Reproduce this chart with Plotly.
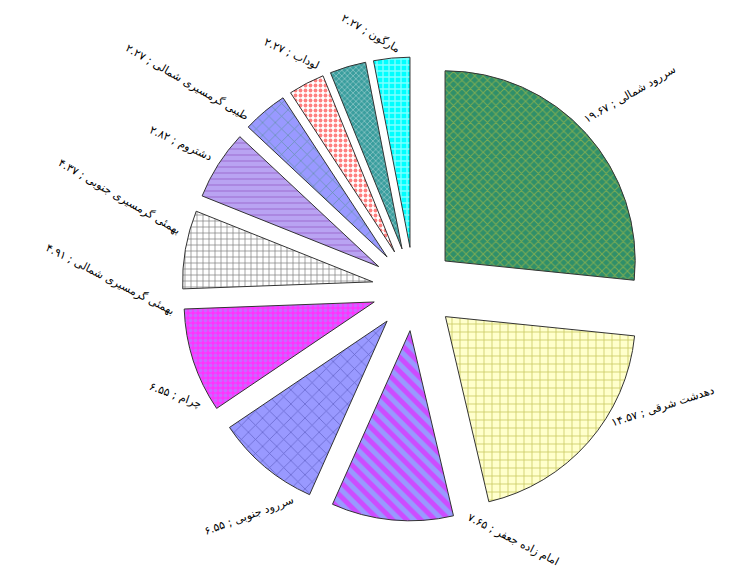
import math
import plotly.graph_objects as go

# ---- data ----
names = ["سررود شمالی", "دهدشت شرقی", "امام زاده جعفر", "سررود جنوبی", "چرام",
         "بهمئی گرمسیری شمالی", "بهمئی گرمسیری جنوبی", "دشتروم",
         "طیبی گرمسیری شمالی", "لوداب", "مارگون"]
values = [19.67, 14.57, 7.65, 6.55, 6.55, 4.91, 4.37, 2.82, 2.27, 2.27, 2.27]

# ---- styles ----
bg_colors = ["#2F8F6A", "#FFFFCC", "#9999FF", "#9999FF", "#FF33FF", "#FFFFFF",
             "#B9A3F2", "#9999FF", "#FFFFFF", "#3A9E9E", "#00FFFF"]
fg_colors = ["#C8C83C", "#999900", "#FF00FF", "#333399", "#9999FF", "#000000",
             "#9966CC", "#2E8B57", "#FF0000", "#FFFFFF", "#FFFFFF"]
shapes = ["x", "+", "\\", "x", ".", "+", "-", "x", ".", "x", "+"]
psizes = [6, 8, 10, 10, 5, 6, 6, 9, 5, 4, 6]
solid = [0.3, 0.2, 0.5, 0.15, 0.45, 0.22, 0.3, 0.15, 0.45, 0.3, 0.4]
label_angles = [-30, -18, 27, -20, 20, 27, 30, 25, 30, 25, 30]
# angular nudge (degrees, counter-clockwise) of each label from its slice middle
label_nudge = [0, -16, -26, -4, -6, -8, -15, -18, -20, -11, -4]
font_size = 11

# page body has an 8px margin, so the figure is drawn 8px in from the corner
W, H = 727, 565
pull = 0.22
r = 190.0
cx, cy = 406, 281          # pie centre in figure pixels
side = 2 * r * (1 + pull)
ml = cx - side / 2
mt = cy - side / 2
mr = W - ml - side
mb = H - mt - side

fa_digits = str.maketrans("0123456789", "۰۱۲۳۴۵۶۷۸۹")


def fa(v):
    return f"{v:.2f}".translate(fa_digits)


fig = go.Figure(go.Pie(
    labels=names, values=values, sort=False, direction="clockwise", rotation=0,
    pull=[pull] * len(values), textinfo="none", hoverinfo="label+value",
    marker=dict(colors=bg_colors, line=dict(color="#333333", width=1),
                pattern=dict(shape=shapes, fgcolor=fg_colors, bgcolor=bg_colors,
                             size=psizes, solidity=solid, fillmode="overlay")),
    showlegend=False,
))

total = sum(values)
cum = 0.0
annotations = []
for name, v, ang, nudge in zip(names, values, label_angles, label_nudge):
    mid = (cum + v / 2) / total * 2 * math.pi + math.radians(nudge)
    cum += v
    s, c = math.sin(mid), math.cos(mid)
    text = f"{name} ; {fa(v)}"
    L = len(text) * font_size * 0.5
    h = font_size * 1.2
    a = math.radians(ang)
    ca, sa = abs(math.cos(a)), abs(math.sin(a))
    half_w = (L * ca + h * sa) / 2
    half_h = (L * sa + h * ca) / 2
    # extent of the rotated text along the radial direction
    proj = abs(math.cos(a) * s - math.sin(a) * c) * L + h * 0.5
    d = r * (1 + pull) + 4 + proj / 2
    px = cx + d * s
    py = cy - d * c
    px = min(max(px, half_w + 2), W - half_w - 2)
    py = min(max(py, half_h + 2), H - half_h - 2)
    annotations.append(dict(
        x=(px - ml) / side, y=1 - (py - mt) / side, xref="paper", yref="paper",
        text=text, showarrow=False, textangle=ang,
        xanchor="center", yanchor="middle",
        font=dict(family="DejaVu Sans", size=font_size, color="#000000"),
    ))

fig.update_layout(
    width=W, height=H, margin=dict(l=ml, r=mr, t=mt, b=mb),
    paper_bgcolor="white", plot_bgcolor="white",
    annotations=annotations,
)
fig.write_html("out.html")
